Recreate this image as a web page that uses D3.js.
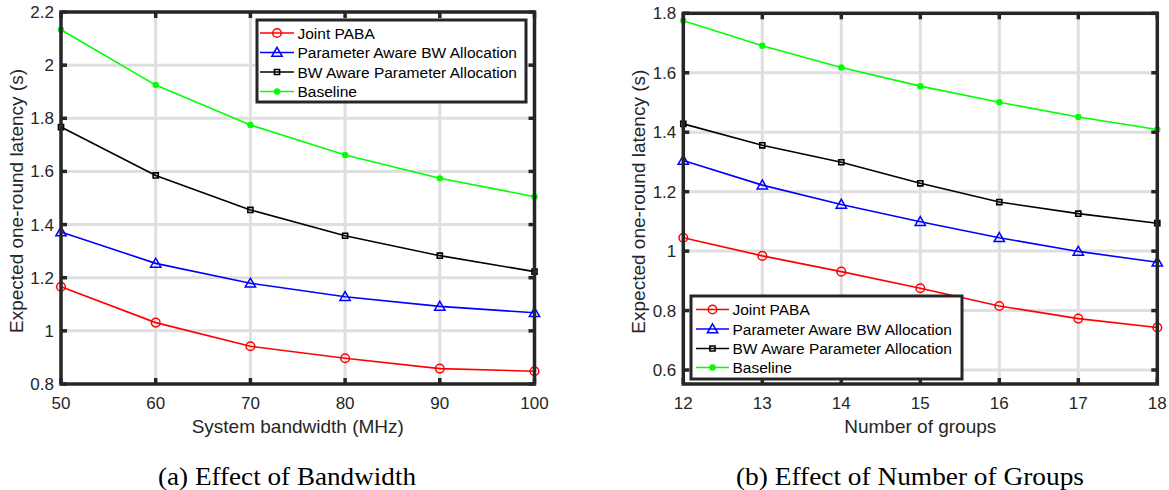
<!DOCTYPE html>
<html>
<head>
<meta charset="utf-8">
<script src="https://cdn.jsdelivr.net/npm/d3@7"></script>
<style>
  html, body { margin: 0; padding: 0; background: #ffffff; }
  svg { display: block; }
  .tick-label { font-family: Arial, "Liberation Sans", sans-serif; font-size: 17px; fill: #262626; }
  .axis-label { font-family: Arial, "Liberation Sans", sans-serif; font-size: 19px; fill: #262626; }
  .legend-text { font-family: Arial, "Liberation Sans", sans-serif; font-size: 15.5px; fill: #000; }
  .caption { font-family: "Liberation Serif", "Times New Roman", serif; font-size: 25px; fill: #000; }
</style>
</head>
<body>
<svg id="chart" width="1169" height="490"></svg>
<script>
// ---------------- data ----------------
const seriesNames = ["Joint PABA", "Parameter Aware BW Allocation", "BW Aware Parameter Allocation", "Baseline"];

const bandwidth = [50, 60, 70, 80, 90, 100];
const jointBW      = [1.166, 1.031, 0.942, 0.897, 0.858, 0.848];
const paramAwareBW = [1.372, 1.254, 1.179, 1.1285, 1.092, 1.068];
const bwAwareBW    = [1.767, 1.585, 1.455, 1.358, 1.283, 1.223];
const baselineBW   = [2.133, 1.925, 1.775, 1.662, 1.574, 1.505];
const yTicksBW = [0.8, 1.0, 1.2, 1.4, 1.6, 1.8, 2.0, 2.2];
const yTickLabelsBW = ["0.8", "1", "1.2", "1.4", "1.6", "1.8", "2", "2.2"];

const groups = [12, 13, 14, 15, 16, 17, 18];
const jointG      = [1.045, 0.984, 0.931, 0.875, 0.8155, 0.773, 0.743];
const paramAwareG = [1.305, 1.222, 1.157, 1.099, 1.045, 0.999, 0.9625];
const bwAwareG    = [1.428, 1.356, 1.299, 1.228, 1.165, 1.126, 1.094];
const baselineG   = [1.775, 1.691, 1.618, 1.555, 1.501, 1.451, 1.409];
const yTicksG = [0.6, 0.8, 1.0, 1.2, 1.4, 1.6, 1.8];
const yTickLabelsG = ["0.6", "0.8", "1", "1.2", "1.4", "1.6", "1.8"];

const xLabels = ["System bandwidth (MHz)", "Number of groups"];
const yLabel = "Expected one-round latency (s)";
const captions = ["(a) Effect of Bandwidth", "(b) Effect of Number of Groups"];

// ---------------- styles ----------------
const colors = ["#ff0000", "#0000ff", "#000000", "#00ff00"];
const markers = ["circle", "triangle", "square", "dot"];
const AXIS = "#262626", GRID = "#dfdfdf";

const svg = d3.select("#chart");

function drawMarker(g, type, color, x, y) {
  if (type === "circle") {
    g.append("circle").attr("cx", x).attr("cy", y).attr("r", 4.3)
      .attr("fill", "none").attr("stroke", color).attr("stroke-width", 1.5);
  } else if (type === "triangle") {
    g.append("path").attr("transform", `translate(${x},${y + 0.8})`)
      .attr("d", d3.symbol(d3.symbolTriangle, 46)())
      .attr("fill", "none").attr("stroke", color).attr("stroke-width", 1.5);
  } else if (type === "square") {
    g.append("path").attr("transform", `translate(${x},${y})`)
      .attr("d", d3.symbol(d3.symbolSquare, 26)())
      .attr("fill", "none").attr("stroke", color).attr("stroke-width", 1.6);
  } else {
    g.append("circle").attr("cx", x).attr("cy", y).attr("r", 3.2)
      .attr("fill", color).attr("stroke", "none");
  }
}

function panel(cfg) {
  const g = svg.append("g");
  const x = d3.scaleLinear().domain(cfg.xDomain).range([cfg.left, cfg.right]);
  const y = d3.scaleLinear().domain(cfg.yDomain).range([cfg.bottom, cfg.top]);

  // grid
  g.append("g").selectAll("line.vg").data(cfg.xValues.slice(1, -1)).join("line")
    .attr("x1", d => x(d)).attr("x2", d => x(d)).attr("y1", cfg.top).attr("y2", cfg.bottom)
    .attr("stroke", GRID).attr("stroke-width", 3);
  g.append("g").selectAll("line.hg").data(cfg.yTicks.filter(t => y(t) > cfg.top + 1 && y(t) < cfg.bottom - 1)).join("line")
    .attr("x1", cfg.left).attr("x2", cfg.right).attr("y1", d => y(d)).attr("y2", d => y(d))
    .attr("stroke", GRID).attr("stroke-width", 3);

  // series
  cfg.series.forEach((vals, i) => {
    const pts = cfg.xValues.map((xv, j) => [x(xv), y(vals[j])]);
    g.append("path").attr("d", d3.line()(pts)).attr("fill", "none")
      .attr("stroke", colors[i]).attr("stroke-width", 1.6);
    const mg = g.append("g");
    pts.forEach(p => drawMarker(mg, markers[i], colors[i], p[0], p[1]));
  });

  // ticks (inward, all four sides)
  const tl = 6;
  const tg = g.append("g").attr("stroke", AXIS).attr("stroke-width", 3.5);
  cfg.xValues.forEach(v => {
    tg.append("line").attr("x1", x(v)).attr("x2", x(v)).attr("y1", cfg.bottom).attr("y2", cfg.bottom - tl);
    tg.append("line").attr("x1", x(v)).attr("x2", x(v)).attr("y1", cfg.top).attr("y2", cfg.top + tl);
  });
  cfg.yTicks.forEach(v => {
    tg.append("line").attr("x1", cfg.left).attr("x2", cfg.left + tl).attr("y1", y(v)).attr("y2", y(v));
    tg.append("line").attr("x1", cfg.right).attr("x2", cfg.right - tl).attr("y1", y(v)).attr("y2", y(v));
  });

  // box
  g.append("rect").attr("x", cfg.left).attr("y", cfg.top)
    .attr("width", cfg.right - cfg.left).attr("height", cfg.bottom - cfg.top)
    .attr("fill", "none").attr("stroke", AXIS).attr("stroke-width", 3.5);

  // tick labels
  g.append("g").selectAll("text").data(cfg.xValues).join("text")
    .attr("class", "tick-label").attr("x", d => x(d)).attr("y", cfg.bottom + 25)
    .attr("text-anchor", "middle").text(d => d);
  g.append("g").selectAll("text").data(cfg.yTicks).join("text")
    .attr("class", "tick-label").attr("x", cfg.left - 7).attr("y", d => y(d) + 6)
    .attr("text-anchor", "end").text((d, i) => cfg.yTickLabels[i]);

  // axis labels
  g.append("text").attr("class", "axis-label")
    .attr("x", (cfg.left + cfg.right) / 2).attr("y", cfg.bottom + 49)
    .attr("text-anchor", "middle").text(cfg.xLabel);
  g.append("text").attr("class", "axis-label")
    .attr("transform", `translate(${cfg.yLabelX},${(cfg.top + cfg.bottom) / 2 + 3}) rotate(-90)`)
    .attr("text-anchor", "middle").text(yLabel);

  // caption
  g.append("text").attr("class", "caption")
    .attr("x", cfg.captionX).attr("y", 485).attr("text-anchor", "middle")
    .attr("textLength", cfg.captionW).attr("lengthAdjust", "spacingAndGlyphs")
    .text(cfg.caption);

  // legend
  const L = cfg.legend;
  const lg = g.append("g");
  lg.append("rect").attr("x", L.x0).attr("y", L.y0).attr("width", L.x1 - L.x0).attr("height", L.y1 - L.y0)
    .attr("fill", "#ffffff").attr("stroke", AXIS).attr("stroke-width", 3);
  seriesNames.forEach((name, i) => {
    const ry = L.rows[i];
    lg.append("line").attr("x1", L.lx0).attr("x2", L.lx1).attr("y1", ry).attr("y2", ry)
      .attr("stroke", colors[i]).attr("stroke-width", 1.6);
    drawMarker(lg, markers[i], colors[i], (L.lx0 + L.lx1) / 2, ry);
    lg.append("text").attr("class", "legend-text").attr("x", L.tx).attr("y", ry + 5.5).text(name);
  });
}

panel({
  xDomain: [50, 100], yDomain: [0.8, 2.2],
  left: 61, right: 534.5, top: 12, bottom: 384,
  xValues: bandwidth, yTicks: yTicksBW, yTickLabels: yTickLabelsBW,
  series: [jointBW, paramAwareBW, bwAwareBW, baselineBW],
  xLabel: xLabels[0], yLabelX: 23, caption: captions[0], captionX: 287, captionW: 258,
  legend: { x0: 257, x1: 526, y0: 20, y1: 102, rows: [33, 52.5, 72, 91.5], lx0: 260, lx1: 294, tx: 297.5 }
});

panel({
  xDomain: [12, 18], yDomain: [0.553, 1.8],
  left: 683.3, right: 1157.3, top: 13.3, bottom: 384,
  xValues: groups, yTicks: yTicksG, yTickLabels: yTickLabelsG,
  series: [jointG, paramAwareG, bwAwareG, baselineG],
  xLabel: xLabels[1], yLabelX: 645, caption: captions[1], captionX: 910, captionW: 348,
  legend: { x0: 691, x1: 962, y0: 296, y1: 379, rows: [309.5, 329, 348.5, 367.5], lx0: 696, lx1: 729, tx: 732.5 }
});
</script>
</body>
</html>
